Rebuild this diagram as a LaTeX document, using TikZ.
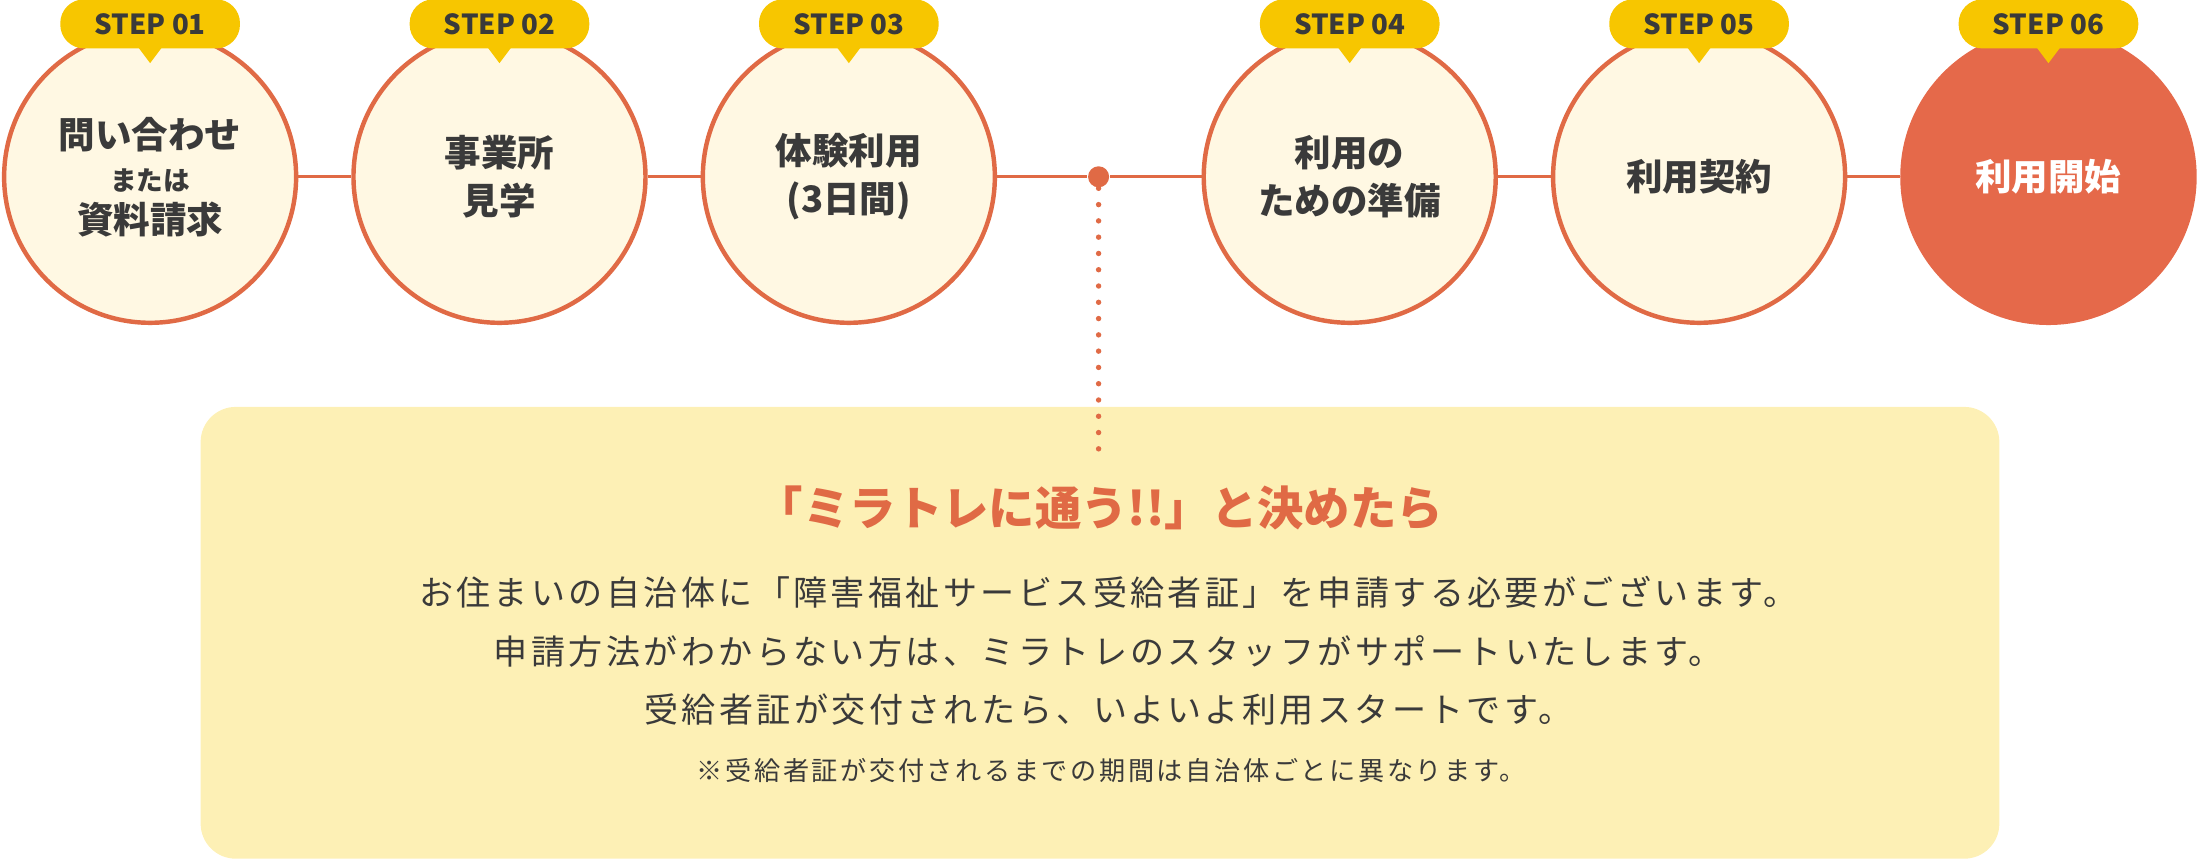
\documentclass[tikz,border=0pt]{standalone}
\usepackage{fontspec}
\setmainfont{Noto Sans CJK JP}
\newfontfamily\spacedjp{Noto Sans CJK JP}[LetterSpace=10]
\usetikzlibrary{positioning}
\definecolor{lineorange}{HTML}{E06A45}
\definecolor{circlefill}{HTML}{FFF8E3}
\definecolor{lastfill}{HTML}{E5694A}
\definecolor{badgeyellow}{HTML}{F7C600}
\definecolor{boxyellow}{HTML}{FDF0B5}
\definecolor{textgray}{HTML}{3A3A3A}

\begin{document}
\begin{tikzpicture}[x=0.01cm,y=-0.01cm,
    stepcircle/.style={circle, draw=lineorange, line width=0.9pt, fill=circlefill, minimum size=2.08cm, inner sep=0pt, align=center, text=textgray, font=\fontsize{7.4}{9.6}\selectfont\bfseries},
    stepbadge/.style={rounded corners=0.17cm, fill=badgeyellow, minimum width=1.28cm, minimum height=0.35cm, inner sep=0pt, text=textgray, font=\fontsize{5.6}{6}\selectfont\bfseries}]
    \useasboundingbox (0,0) rectangle (1568,614);

    % info box
    \fill[boxyellow, rounded corners=0.25cm] (143,290) rectangle (1425,612);

    \node[stepcircle] (s1) at (107,126) {問い合わせ\\[-1pt]{\fontsize{5.4}{6}\selectfont または}\\[-1pt]資料請求};
    \node[stepcircle] (s2) at (356,126) {事業所\\見学};
    \node[stepcircle] (s3) at (605,126) {体験利用\\(3日間)};
    \node[stepcircle] (s4) at (962,126) {利用の\\ための準備};
    \node[stepcircle] (s5) at (1211,126) {利用契約};
    \node[stepcircle, draw=lastfill, fill=lastfill, text=white] (s6) at (1460,126) {利用開始};
    \node[circle, fill=lineorange, minimum size=0.15cm, inner sep=0pt] (dot) at (783,126) {};
    \coordinate (dotend) at (783,325);

    \draw[lineorange, line width=0.6pt] (s1) -- (s2);
    \draw[lineorange, line width=0.6pt] (s2) -- (s3);
    \draw[lineorange, line width=0.6pt] (s3) -- (dot);
    \draw[lineorange, line width=0.6pt] (dot) -- (s4);
    \draw[lineorange, line width=0.6pt] (s4) -- (s5);
    \draw[lineorange, line width=0.6pt] (s5) -- (s6);
    \draw[lineorange, line width=1.1pt, dash pattern=on 0pt off 3.3pt, line cap=round] (dot) -- (dotend);

    % badges
    \foreach \i/\x in {1/107,2/356,3/605,4/962,5/1211,6/1460}{
        \fill[badgeyellow] (\x-9,33) -- (\x,45) -- (\x+9,33) -- cycle;
        \node[stepbadge] (b\i) at (\x,17) {STEP 0\i};
    }

    \node[text=lineorange, font=\fontsize{9.4}{11}\selectfont\bfseries] (title) at (784,362) {「ミラトレに通う!!」と決めたら};
    \node[text=textgray, font=\spacedjp\fontsize{6.9}{11.9}\selectfont, align=center] (body) at (790,464) {お住まいの自治体に「障害福祉サービス受給者証」を申請する必要がございます。\\申請方法がわからない方は、ミラトレのスタッフがサポートいたします。\\受給者証が交付されたら、いよいよ利用スタートです。};
    \node[text=textgray, font=\spacedjp\fontsize{5.3}{6}\selectfont] (note) at (792,549) {※受給者証が交付されるまでの期間は自治体ごとに異なります。};
\end{tikzpicture}
\end{document}
